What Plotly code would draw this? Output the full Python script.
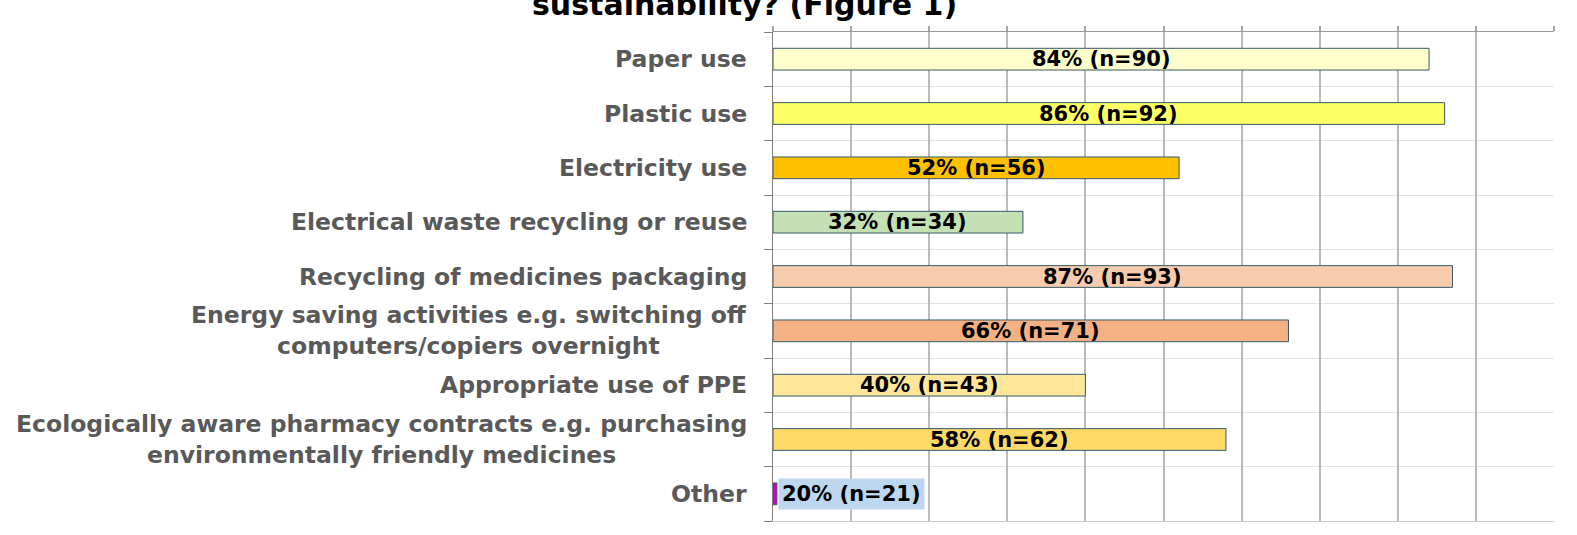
import plotly.graph_objects as go

categories = [
    "Paper use",
    "Plastic use",
    "Electricity use",
    "Electrical waste recycling or reuse",
    "Recycling of medicines packaging",
    "Energy saving activities e.g. switching off<br>computers/copiers overnight",
    "Appropriate use of PPE",
    "Ecologically aware pharmacy contracts e.g. purchasing<br>environmentally friendly medicines",
    "Other",
]
values = [84, 86, 52, 32, 87, 66, 40, 58, 0.5]
bar_labels = ["84% (n=90)", "86% (n=92)", "52% (n=56)", "32% (n=34)", "87% (n=93)",
              "66% (n=71)", "40% (n=43)", "58% (n=62)", "20% (n=21)"]
colors = ["#FFFFCC", "#FFFF66", "#FFC000", "#C5E0B4", "#F8CBAD",
          "#F4B183", "#FFE699", "#FFD966", "#CC00CC"]
x_ticks = list(range(0, 101, 10))
x_tick_text = ["%d%%" % v for v in x_ticks]
title_text = "sustainability? (Figure 1)"

FONT = "DejaVu Sans"
pos = list(range(len(categories)))

fig = go.Figure()
fig.add_trace(go.Bar(
    x=values, y=pos, orientation="h", width=0.4,
    marker=dict(color=colors, line=dict(color="#34596B", width=1)),
    hoverinfo="skip", showlegend=False,
))
fig.add_trace(go.Scatter(x=[], y=[], xaxis="x2", showlegend=False))

annotations = []
for i, c in enumerate(categories):
    annotations.append(dict(
        text="<b>%s</b>" % c, xref="paper", yref="y", x=0, y=i, xshift=-24,
        xanchor="right", yanchor="middle", align="center", showarrow=False,
        font=dict(family=FONT, size=23.5, color="#595959"),
    ))
for i, (v, t) in enumerate(zip(values, bar_labels)):
    if v >= 5:
        annotations.append(dict(
            text="<b>%s</b>" % t, xref="x", yref="y", x=v / 2, y=i,
            xanchor="center", yanchor="middle", showarrow=False,
            font=dict(family=FONT, size=21, color="#000000"),
        ))
    else:
        annotations.append(dict(
            text="<b>%s</b>" % t, xref="x", yref="y", x=v, y=i, xshift=1,
            xanchor="left", yanchor="middle", showarrow=False,
            bgcolor="#BDD7EE", borderpad=3,
            font=dict(family=FONT, size=21, color="#000000"),
        ))
annotations.append(dict(
    text="<b>%s</b>" % title_text, xref="paper", yref="paper", x=-0.036, y=1,
    yshift=8, xanchor="center", yanchor="bottom", showarrow=False,
    font=dict(family=FONT, size=30, color="#000000"),
))

fig.update_layout(
    width=1577, height=535,
    margin=dict(l=773, r=23, t=32, b=14),
    paper_bgcolor="white", plot_bgcolor="white",
    bargap=0.6,
    annotations=annotations,
    xaxis=dict(
        range=[0, 100], tickmode="array", tickvals=x_ticks, ticktext=x_tick_text,
        showgrid=True, gridcolor="#BABABA", gridwidth=2,
        showline=True, linecolor="#C8C8C8", linewidth=1, mirror=True,
        ticks="", zeroline=False, automargin=False, ticklabelstandoff=7,
        tickfont=dict(family=FONT, size=13, color="#595959"),
    ),
    xaxis2=dict(
        overlaying="x", matches="x", side="top", anchor="y",
        tickmode="array", tickvals=x_ticks, ticks="outside", ticklen=5, tickwidth=2,
        tickcolor="#A6A6A6", showticklabels=False, showgrid=False,
        zeroline=False, showline=True, linecolor="#9A9A9A", linewidth=1,
        automargin=False,
    ),
    yaxis=dict(
        range=[8.5, -0.5], tickmode="linear", tick0=0, dtick=1,
        showticklabels=False, ticks="", showgrid=False, zeroline=False,
        showline=True, linecolor="#7F7F7F", linewidth=1, automargin=False,
        minor=dict(tickmode="linear", tick0=0.5, dtick=1, ticks="outside",
                   ticklen=8, tickcolor="#7F7F7F", showgrid=True,
                   gridcolor="#E3E3E3", gridwidth=1),
    ),
)

fig.write_html("out.html", config={"displayModeBar": False},
               post_script="document.body.style.margin='0';")
